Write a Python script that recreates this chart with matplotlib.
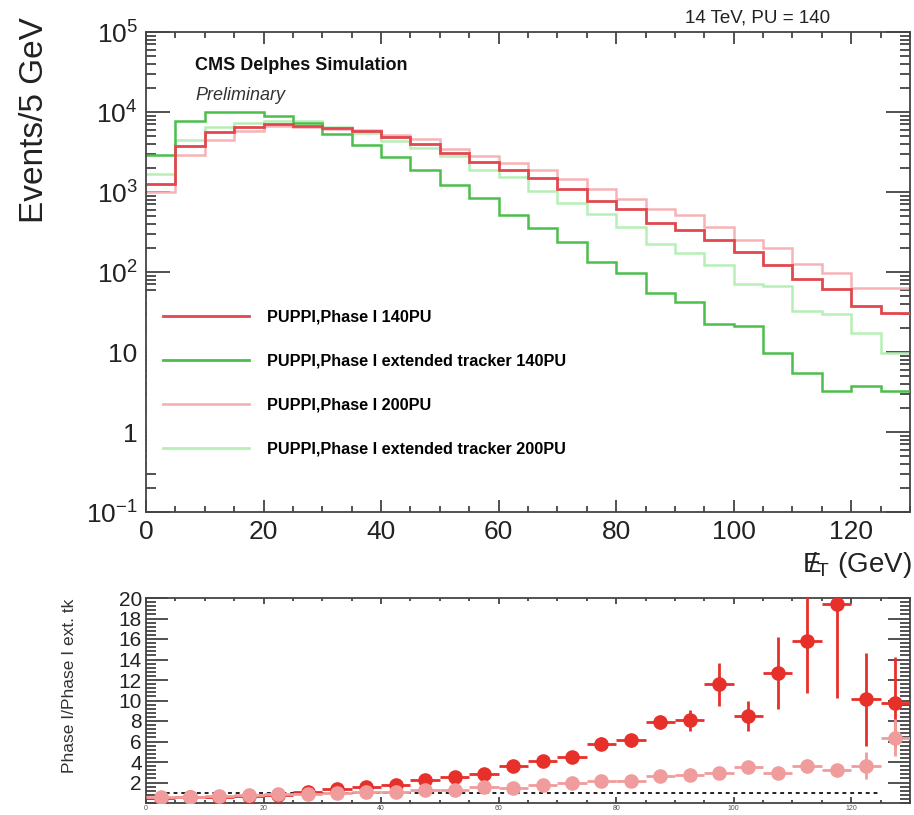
import numpy as np
import matplotlib
matplotlib.use("Agg")
import matplotlib.pyplot as plt
from matplotlib.ticker import FixedLocator, FixedFormatter, MultipleLocator, LogLocator, NullFormatter

plt.rcParams['font.family'] = ['Liberation Sans', 'DejaVu Sans']
plt.rcParams['mathtext.fontset'] = 'custom'
plt.rcParams['mathtext.rm'] = 'Liberation Sans'
plt.rcParams['mathtext.it'] = 'Liberation Sans:italic'
plt.rcParams['mathtext.bf'] = 'Liberation Sans:bold'

# ---- MET spectra, 5 GeV bins from 0 to 130 GeV ----
bin_edges = np.arange(0, 135, 5)

phase1_140 = [1270, 3800, 5570, 6500, 7150, 6750, 6300, 5740, 4890, 4030, 3080, 2380, 1875,
              1475, 1077, 771, 607, 415, 336, 250, 179, 122, 82, 61, 38, 31]
ext_140 = [2940, 7640, 9890, 10000, 8800, 7300, 5300, 3900, 2720, 1875, 1230, 840, 512,
           352, 240, 132, 97, 54, 42, 22.4, 21.4, 9.8, 5.4, 3.3, 3.8, 3.3]
phase1_200 = [1000, 2940, 4520, 5850, 6740, 6500, 6200, 5900, 5210, 4610, 3460, 2850, 2300,
              1860, 1437, 1100, 826, 607, 515, 366, 250, 197, 125, 96, 64, 64]
ext_200 = [1660, 4520, 6430, 7300, 7640, 7640, 6430, 5480, 4400, 3520, 2830, 1910, 1520,
           1025, 721, 526, 366, 222, 175, 122, 70, 66, 33, 30, 17.3, 9.8]

series_labels = ["PUPPI,Phase I 140PU",
                 "PUPPI,Phase I extended tracker 140PU",
                 "PUPPI,Phase I 200PU",
                 "PUPPI,Phase I extended tracker 200PU"]

# ---- Ratio Phase I / Phase I extended tracker ----
ratio_140 = [0.5, 0.55, 0.55, 0.7, 0.8, 1.05, 1.35, 1.6, 1.75, 2.2, 2.5, 2.85, 3.64,
             4.13, 4.49, 5.8, 6.1, 7.9, 8.06, 11.6, 8.5, 12.7, 15.8, 19.4, 10.1, 9.8]
ratio_140_err = [0.1, 0.1, 0.1, 0.1, 0.1, 0.1, 0.1, 0.12, 0.15, 0.2, 0.25, 0.3, 0.35,
                 0.4, 0.45, 0.6, 0.6, 0.7, 1.0, 2.1, 1.5, 3.5, 5.1, 9.2, 4.5, 4.4]
ratio_200 = [0.6, 0.6, 0.65, 0.8, 0.88, 0.85, 0.95, 1.05, 1.1, 1.25, 1.3, 1.52, 1.45,
             1.78, 1.94, 2.1, 2.1, 2.66, 2.76, 2.92, 3.51, 2.92, 3.64, 3.25, 3.64, 6.36]
ratio_200_err = [0.05, 0.05, 0.05, 0.05, 0.05, 0.05, 0.05, 0.06, 0.07, 0.08, 0.1, 0.12, 0.12,
                 0.15, 0.18, 0.2, 0.25, 0.3, 0.35, 0.4, 0.5, 0.5, 0.7, 0.5, 1.3, 1.8]
unity_span = (2.0, 125.0)

y_major = [1e-1, 1, 10, 1e2, 1e3, 1e4, 1e5]
y_major_labels = [r'$10^{-1}$', '1', '10', r'$10^{2}$', r'$10^{3}$', r'$10^{4}$', r'$10^{5}$']
x_major = [0, 20, 40, 60, 80, 100, 120]

c_red = '#e2474f'
c_green = '#4bbf4b'
c_red_light = '#f6b3b6'
c_green_light = '#b6efb6'
c_pt_dark = '#e8302a'
c_pt_light = '#f19c9c'

W, H = 914, 815
fig = plt.figure(figsize=(W / 100, H / 100), dpi=100)
ax = fig.add_axes([146 / W, 1 - 512 / H, (910 - 146) / W, (512 - 32) / H])
rax = fig.add_axes([146 / W, 1 - 803 / H, (910 - 146) / W, (803 - 598) / H])

# ---- upper panel ----
ax.stairs(phase1_140, bin_edges, baseline=None, color=c_red, lw=2.0, label=series_labels[0], zorder=4)
ax.stairs(ext_140, bin_edges, baseline=None, color=c_green, lw=1.8, label=series_labels[1], zorder=3)
ax.stairs(phase1_200, bin_edges, baseline=None, color=c_red_light, lw=1.8, label=series_labels[2], zorder=2)
ax.stairs(ext_200, bin_edges, baseline=None, color=c_green_light, lw=1.8, label=series_labels[3], zorder=2)

ax.set_yscale('log')
ax.set_xlim(0, 130)
ax.set_ylim(1e-1, 1e5)
ax.xaxis.set_major_locator(FixedLocator(x_major))
ax.xaxis.set_minor_locator(MultipleLocator(5))
ax.yaxis.set_major_locator(FixedLocator(y_major))
ax.yaxis.set_major_formatter(FixedFormatter(y_major_labels))
ax.yaxis.set_minor_locator(LogLocator(base=10, subs=np.arange(2, 10)))
ax.yaxis.set_minor_formatter(NullFormatter())
ax.tick_params(which='both', direction='in', top=True, right=True, width=1.2, colors='#333333')
ax.tick_params(axis='x', which='major', length=8.5, labelsize=19, pad=6, labelcolor='#222222')
ax.tick_params(axis='x', which='minor', length=4)
ax.tick_params(axis='y', which='major', length=17, labelsize=19, pad=6, labelcolor='#222222')
ax.tick_params(axis='y', which='minor', length=7.5)
for s in ax.spines.values():
    s.set_color('#444444')
    s.set_linewidth(1.3)
ax.spines['left'].set_zorder(10)

leg = ax.legend(loc='upper left', bbox_to_anchor=(0.0015, 0.454), frameon=True,
                facecolor='white', edgecolor='none', framealpha=1.0, fancybox=False,
                prop={'weight': 'bold', 'size': 11.7}, handlelength=5.3, handletextpad=1.15,
                labelspacing=1.78, borderpad=0.95, borderaxespad=0)
for line in leg.get_lines():
    line.set_linewidth(2.0)

fig.text(195 / W, 1 - 66 / H, 'CMS Delphes Simulation', fontsize=13, fontweight='bold',
         ha='left', va='center', color='#111111')
fig.text(195 / W, 1 - 95 / H, 'Preliminary', fontsize=13, style='italic',
         ha='left', va='center', color='#333333')
fig.text(830 / W, 1 - 18 / H, '14 TeV, PU = 140', fontsize=13.5, ha='right', va='center',
         color='#222222')
fig.text(35 / W, 1 - 120 / H, 'Events/5 GeV', fontsize=24, rotation=90, ha='center',
         va='center', color='#222222')
fig.text(912 / W, 1 - 565 / H, r'$\mathrm{E}\!\!\!/_{\mathrm{T}}$ (GeV)', fontsize=20,
         ha='right', va='center', color='#222222')

# ---- ratio panel ----
centers = 0.5 * (bin_edges[:-1] + bin_edges[1:])
half_w = 0.5 * np.diff(bin_edges)
rax.plot(unity_span, [1, 1], ls=(0, (2, 2)), color='#222222', lw=1.4, zorder=1)
rax.errorbar(centers, ratio_140, xerr=half_w, yerr=ratio_140_err, fmt='o', color=c_pt_dark,
             ms=9.5, elinewidth=2, capsize=0, zorder=3)
rax.errorbar(centers, ratio_200, xerr=half_w, yerr=ratio_200_err, fmt='o', color=c_pt_light,
             ms=9.5, elinewidth=2, capsize=0, zorder=4)
rax.set_xlim(0, 130)
rax.set_ylim(0, 20)
rax.xaxis.set_major_locator(FixedLocator(x_major))
rax.xaxis.set_minor_locator(MultipleLocator(5))
rax.yaxis.set_major_locator(FixedLocator([2, 4, 6, 8, 10, 12, 14, 16, 18, 20]))
rax.yaxis.set_minor_locator(MultipleLocator(0.4))
rax.tick_params(which='both', direction='in', top=True, right=True, width=1.2, colors='#333333')
rax.tick_params(axis='x', which='major', length=4, labelsize=5, pad=1.5, labelcolor='#555555')
rax.tick_params(axis='x', which='minor', length=2)
rax.tick_params(axis='y', which='major', length=16, labelsize=15, pad=3, labelcolor='#222222')
rax.tick_params(axis='y', which='minor', length=7)
for s in rax.spines.values():
    s.set_color('#444444')
    s.set_linewidth(1.3)
fig.text(70 / W, 1 - 686 / H, 'Phase I/Phase I ext. tk', fontsize=12.5, rotation=90,
         ha='center', va='center', color='#333333')

fig.savefig('out.png', dpi=100)
